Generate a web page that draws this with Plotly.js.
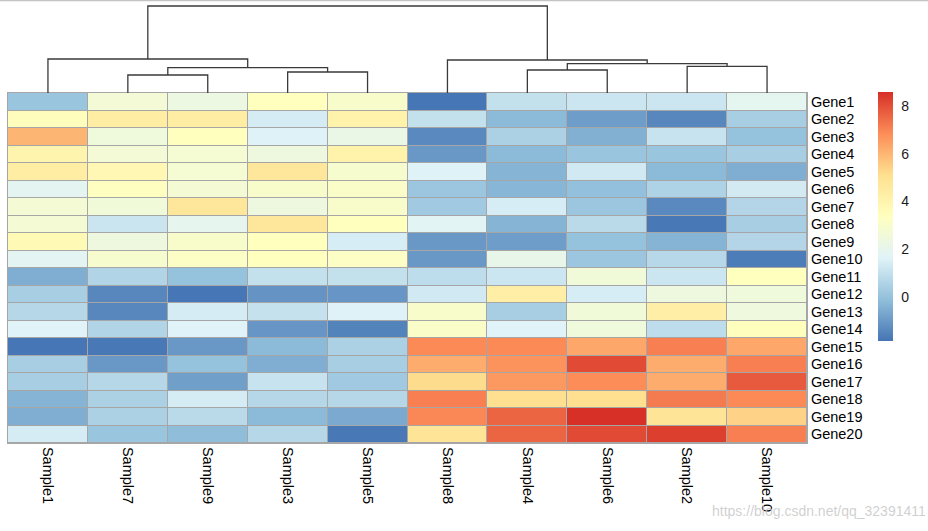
<!DOCTYPE html>
<html>
<head>
<meta charset="utf-8">
<script src="https://cdn.plot.ly/plotly-3.0.1.min.js"></script>
<style>html,body{margin:0;padding:0;background:#fff;}#chart{width:928px;height:531px;}</style>
</head>
<body>
<div id="chart"></div>
<script>
// Column order (after clustering)
var samples = ["Sample1","Sample7","Sample9","Sample3","Sample5","Sample8","Sample4","Sample6","Sample2","Sample10"];
var genes = ["Gene1","Gene2","Gene3","Gene4","Gene5","Gene6","Gene7","Gene8","Gene9","Gene10",
             "Gene11","Gene12","Gene13","Gene14","Gene15","Gene16","Gene17","Gene18","Gene19","Gene20"];

// values per gene, in sample order above
var gene1  = [0.1, 2.7, 2.3, 3.4, 3.0, -1.8, 1.0, 1.2, 1.2, 1.9];
var gene2  = [3.5, 4.4, 4.4, 1.4, 4.1, 1.0, -0.2, -0.9, -1.4, 0.4];
var gene3  = [6.0, 2.5, 3.4, 1.6, 2.2, -1.35, 0.5, -0.45, 1.1, 0.0];
var gene4  = [4.0, 2.7, 2.8, 2.4, 4.1, -1.0, -0.2, 0.1, 0.1, 0.4];
var gene5  = [4.4, 3.8, 2.8, 4.7, 2.9, 1.6, -0.35, 1.3, -0.2, -0.5];
var gene6  = [1.85, 3.3, 2.75, 3.0, 3.1, 0.15, -0.3, -0.05, 0.55, 1.35];
var gene7  = [2.75, 2.6, 4.7, 2.4, 3.0, 0.25, 1.45, 0.15, -1.35, 0.65];
var gene8  = [2.75, 1.15, 1.95, 4.7, 3.4, 1.75, -0.35, 0.8, -1.75, 0.4];
var gene9  = [3.7, 2.4, 3.0, 3.4, 1.45, -1.0, -0.9, 0.0, -0.35, 0.65];
var gene10 = [1.8, 2.9, 3.2, 3.4, 3.2, -1.0, 2.1, 0.15, 0.75, -1.65];
var gene11 = [-0.5, 0.6, 0.0, 1.0, 1.0, 0.9, 1.2, 2.6, 1.2, 3.4];
var gene12 = [0.4, -1.4, -1.8, -1.1, -1.05, 1.3, 4.3, 1.45, 2.4, 2.5];
var gene13 = [0.7, -1.4, 1.4, 1.05, 1.6, 3.0, 0.4, 2.6, 4.3, 2.45];
var gene14 = [1.65, 0.6, 1.65, -1.05, -1.5, 3.1, 1.65, 2.5, 0.9, 3.45];
var gene15 = [-1.8, -1.75, -1.0, -0.2, 0.5, 6.9, 6.9, 6.3, 7.1, 6.3];
var gene16 = [0.4, -1.0, 0.0, -0.5, 0.4, 6.2, 6.75, 8.1, 6.2, 7.1];
var gene17 = [0.4, 0.7, -0.85, 1.1, 0.25, 5.2, 6.6, 6.85, 6.2, 7.8];
var gene18 = [-0.35, 0.5, 1.4, 0.7, 0.7, 7.1, 5.1, 5.1, 7.2, 6.9];
var gene19 = [-0.5, 0.5, 0.8, -0.2, -0.6, 6.95, 7.6, 8.58, 4.9, 5.4];
var gene20 = [1.4, 0.1, -0.15, 0.7, -1.75, 4.9, 7.6, 8.1, 8.3, 7.1];

// column dendrogram (hclust-style merge; negative = leaf position (1-based), positive = earlier merge)
var colMerge = [[-2,-3],[-4,-5],[1,2],[-1,3],[-7,-8],[-9,-10],[5,6],[-6,7],[4,8]];
var colHeight = [18, 21, 25.3, 34, 23, 26.7, 29.3, 33, 87];

var colorbarTicks = [0, 2, 4, 6, 8];
var zMin = -1.83, zMax = 8.58;

var z = [gene1,gene2,gene3,gene4,gene5,gene6,gene7,gene8,gene9,gene10,
         gene11,gene12,gene13,gene14,gene15,gene16,gene17,gene18,gene19,gene20];

var pal = ["#4575B4","#91BFDB","#E0F3F8","#FFFFBF","#FEE090","#FC8D59","#D73027"];
var colorscale = pal.map(function(c,i){return [i/(pal.length-1), c];});

// build dendrogram segments
var nodeX = [], nodeH = [];
function pos(ref){ return ref < 0 ? {x: -ref-1, h: 0} : {x: nodeX[ref-1], h: nodeH[ref-1]}; }
var dx = [], dy = [];
colMerge.forEach(function(m, i){
  var a = pos(m[0]), b = pos(m[1]), h = colHeight[i];
  dx.push(a.x, a.x, b.x, b.x, null);
  dy.push(a.h, h, h, b.h, null);
  nodeX.push((a.x + b.x)/2); nodeH.push(h);
});

var fontFam = '"Liberation Sans", Arial, sans-serif';
var heat = {
  type: 'heatmap', x: samples, y: genes, z: z,
  colorscale: colorscale, zmin: zMin, zmax: zMax,
  xgap: 1, ygap: 1, hoverongaps: false,
  colorbar: {
    x: 1.0889, xanchor: 'left', xpad: 0, ypad: 0,
    y: 0.7977, yanchor: 'top', len: 249, lenmode: 'pixels',
    thickness: 15, thicknessmode: 'pixels', outlinewidth: 0,
    tickvals: colorbarTicks, ticks: 'outside', ticklen: 6, tickcolor: 'rgba(0,0,0,0)',
    tickfont: {family: fontFam, size: 14, color: '#1a1a1a'}
  }
};
var dend = {
  type: 'scatter', mode: 'lines', x: dx, y: dy, xaxis: 'x2', yaxis: 'y2',
  line: {color: '#3a3a3a', width: 1.3}, hoverinfo: 'skip', showlegend: false
};

var layout = {
  width: 928, height: 531,
  margin: {l: 8, r: 121, t: 3, b: 88},
  paper_bgcolor: '#ffffff', plot_bgcolor: '#a6a6a6',
  font: {family: fontFam, color: '#000'},
  showlegend: false,
  xaxis: {domain: [0,1], anchor: 'y', tickangle: 90, ticks: '', showgrid: false, zeroline: false,
          tickmode: 'array', tickvals: samples, ticktext: samples,
          showline: true, mirror: true, linecolor: '#a6a6a6', linewidth: 1,
          tickfont: {family: fontFam, size: 14.5, color: '#000'}, fixedrange: true},
  yaxis: {domain: [0, 0.7955], anchor: 'x', autorange: 'reversed', side: 'right', ticks: '',
          tickmode: 'array', tickvals: genes, ticktext: genes,
          showgrid: false, zeroline: false, showline: true, mirror: true, linecolor: '#a6a6a6', linewidth: 1,
          tickfont: {family: fontFam, size: 14.5, color: '#000'}, fixedrange: true},
  xaxis2: {domain: [0,1], anchor: 'y2', range: [-0.5, 9.5], visible: false, fixedrange: true},
  yaxis2: {domain: [0.7955, 1], anchor: 'x2', range: [0, 90], visible: false, fixedrange: true},
  shapes: [
    {type: 'rect', xref: 'x2 domain', yref: 'y2 domain', x0: 0, x1: 1, y0: 0, y1: 1,
     fillcolor: '#ffffff', line: {width: 0}, layer: 'below'},
    {type: 'line', xref: 'paper', yref: 'paper', x0: -0.011, x1: 1.152, y0: 1.0057, y1: 1.0057,
     line: {color: '#c4c4c4', width: 1.5}}
  ],
  annotations: [
    {xref: 'paper', yref: 'paper', x: 1.1515, y: -0.155, xanchor: 'right', yanchor: 'middle',
     text: 'https://blog.csdn.net/qq_32391411', showarrow: false,
     font: {family: fontFam, size: 14, color: 'rgba(200,200,200,0.85)'}}
  ]
};

Plotly.newPlot('chart', [heat, dend], layout, {displayModeBar: false, staticPlot: true});
</script>
</body>
</html>
